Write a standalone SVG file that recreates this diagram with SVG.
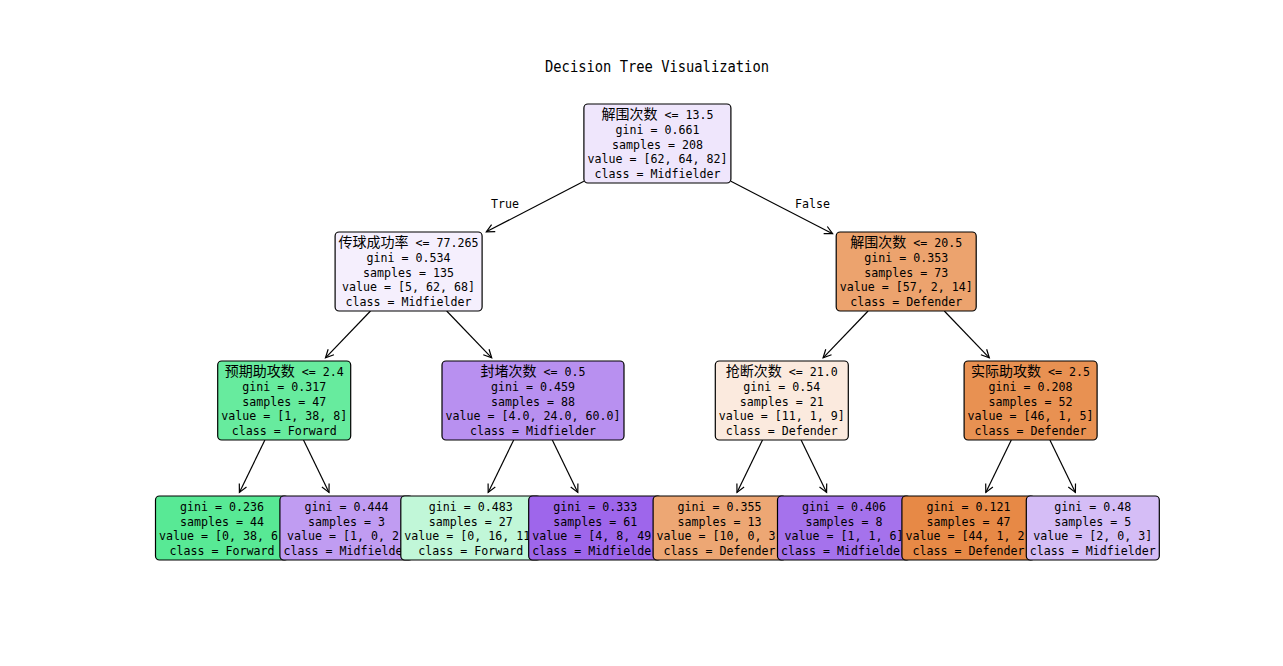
<svg xmlns="http://www.w3.org/2000/svg" width="1283" height="666" viewBox="0 0 1283 666">
<style>
.bg{fill:#ffffff}
.box{stroke:#000;stroke-width:1.2}
.t{font-family:"DejaVu Sans Mono","Noto Sans CJK SC",monospace;font-size:12.5px;text-anchor:middle;fill:#000}
.l{font-family:"DejaVu Sans Mono","Noto Sans CJK SC",monospace;font-size:12.5px;text-anchor:start;fill:#000}
.c{font-family:"Noto Sans CJK SC",sans-serif;font-size:14px;text-anchor:start;fill:#000}
.title{font-family:"DejaVu Sans Mono","Noto Sans CJK SC",monospace;font-size:15px;text-anchor:middle;fill:#000}
.edge{stroke:#000;stroke-width:1.2;fill:none;marker-end:url(#arr)}
</style>
<defs>
<marker id="arr" markerUnits="userSpaceOnUse" viewBox="-10 -6 12 12" refX="0" refY="0" markerWidth="12" markerHeight="12" orient="auto">
<path d="M-8,-4 L0,0 L-8,4" fill="none" stroke="#000" stroke-width="1.2"/>
</marker>
</defs>
<rect class="bg" x="0" y="0" width="1283" height="666"/>
<text class="title" x="657" y="72" textLength="224" lengthAdjust="spacingAndGlyphs">Decision Tree Visualization</text>

<g id="connectors">
<line class="edge" x1="583.9" y1="181.3" x2="486.3" y2="231.8"/>
<line class="edge" x1="730.9" y1="181.3" x2="832.6" y2="233.7"/>
<line class="edge" x1="370.5" y1="311" x2="325.5" y2="357.8"/>
<line class="edge" x1="446.7" y1="311" x2="491.7" y2="357.8"/>
<line class="edge" x1="868.1" y1="311" x2="823.1" y2="357.8"/>
<line class="edge" x1="944.3" y1="311" x2="989.3" y2="357.8"/>
<line class="edge" x1="264.9" y1="440" x2="239.4" y2="492.4"/>
<line class="edge" x1="303.5" y1="440" x2="329.0" y2="492.4"/>
<line class="edge" x1="513.7" y1="440" x2="488.2" y2="492.4"/>
<line class="edge" x1="552.3" y1="440" x2="577.8" y2="492.4"/>
<line class="edge" x1="762.5" y1="440" x2="737.0" y2="492.4"/>
<line class="edge" x1="801.1" y1="440" x2="826.6" y2="492.4"/>
<line class="edge" x1="1011.3" y1="440" x2="985.8" y2="492.4"/>
<line class="edge" x1="1049.9" y1="440" x2="1075.4" y2="492.4"/>
<text class="t" x="505" y="208" textLength="28" lengthAdjust="spacingAndGlyphs">True</text>
<text class="t" x="812.5" y="208" textLength="35" lengthAdjust="spacingAndGlyphs">False</text>
</g>

<g id="node-root">
<rect class="box" x="583.9" y="104" width="147" height="79" rx="4" fill="#efe6fc"/>
<text class="c" x="601.4" y="119" textLength="56" lengthAdjust="spacingAndGlyphs">解围次数</text>
<text class="l" x="664.4" y="119" textLength="49" lengthAdjust="spacingAndGlyphs">&lt;= 13.5</text>
<text class="t" x="657.4" y="133.7" textLength="84" lengthAdjust="spacingAndGlyphs">gini = 0.661</text>
<text class="t" x="657.4" y="148.5" textLength="91" lengthAdjust="spacingAndGlyphs">samples = 208</text>
<text class="t" x="657.4" y="163.2" textLength="140" lengthAdjust="spacingAndGlyphs">value = [62, 64, 82]</text>
<text class="t" x="657.4" y="178" textLength="126" lengthAdjust="spacingAndGlyphs">class = Midfielder</text>
</g>

<g id="node-a">
<rect class="box" x="335.1" y="232" width="147" height="79" rx="4" fill="#f5effd"/>
<text class="c" x="338.6" y="247" textLength="70" lengthAdjust="spacingAndGlyphs">传球成功率</text>
<text class="l" x="415.6" y="247" textLength="63" lengthAdjust="spacingAndGlyphs">&lt;= 77.265</text>
<text class="t" x="408.6" y="261.7" textLength="84" lengthAdjust="spacingAndGlyphs">gini = 0.534</text>
<text class="t" x="408.6" y="276.5" textLength="91" lengthAdjust="spacingAndGlyphs">samples = 135</text>
<text class="t" x="408.6" y="291.2" textLength="133" lengthAdjust="spacingAndGlyphs">value = [5, 62, 68]</text>
<text class="t" x="408.6" y="306" textLength="126" lengthAdjust="spacingAndGlyphs">class = Midfielder</text>
</g>

<g id="node-b">
<rect class="box" x="836.2" y="232" width="140" height="79" rx="4" fill="#eca36e"/>
<text class="c" x="850.2" y="247" textLength="56" lengthAdjust="spacingAndGlyphs">解围次数</text>
<text class="l" x="913.2" y="247" textLength="49" lengthAdjust="spacingAndGlyphs">&lt;= 20.5</text>
<text class="t" x="906.2" y="261.7" textLength="84" lengthAdjust="spacingAndGlyphs">gini = 0.353</text>
<text class="t" x="906.2" y="276.5" textLength="84" lengthAdjust="spacingAndGlyphs">samples = 73</text>
<text class="t" x="906.2" y="291.2" textLength="133" lengthAdjust="spacingAndGlyphs">value = [57, 2, 14]</text>
<text class="t" x="906.2" y="306" textLength="112" lengthAdjust="spacingAndGlyphs">class = Defender</text>
</g>

<g id="node-c">
<rect class="box" x="217.7" y="361" width="133" height="79" rx="4" fill="#67eb9e"/>
<text class="c" x="224.7" y="376" textLength="70" lengthAdjust="spacingAndGlyphs">预期助攻数</text>
<text class="l" x="301.7" y="376" textLength="42" lengthAdjust="spacingAndGlyphs">&lt;= 2.4</text>
<text class="t" x="284.2" y="390.7" textLength="84" lengthAdjust="spacingAndGlyphs">gini = 0.317</text>
<text class="t" x="284.2" y="405.5" textLength="84" lengthAdjust="spacingAndGlyphs">samples = 47</text>
<text class="t" x="284.2" y="420.2" textLength="126" lengthAdjust="spacingAndGlyphs">value = [1, 38, 8]</text>
<text class="t" x="284.2" y="435" textLength="105" lengthAdjust="spacingAndGlyphs">class = Forward</text>
</g>

<g id="node-d">
<rect class="box" x="442" y="361" width="182" height="79" rx="4" fill="#b890f0"/>
<text class="c" x="480.5" y="376" textLength="56" lengthAdjust="spacingAndGlyphs">封堵次数</text>
<text class="l" x="543.5" y="376" textLength="42" lengthAdjust="spacingAndGlyphs">&lt;= 0.5</text>
<text class="t" x="533" y="390.7" textLength="84" lengthAdjust="spacingAndGlyphs">gini = 0.459</text>
<text class="t" x="533" y="405.5" textLength="84" lengthAdjust="spacingAndGlyphs">samples = 88</text>
<text class="t" x="533" y="420.2" textLength="175" lengthAdjust="spacingAndGlyphs">value = [4.0, 24.0, 60.0]</text>
<text class="t" x="533" y="435" textLength="126" lengthAdjust="spacingAndGlyphs">class = Midfielder</text>
</g>

<g id="node-e">
<rect class="box" x="715.3" y="361" width="133" height="79" rx="4" fill="#fbeade"/>
<text class="c" x="725.8" y="376" textLength="56" lengthAdjust="spacingAndGlyphs">抢断次数</text>
<text class="l" x="788.8" y="376" textLength="49" lengthAdjust="spacingAndGlyphs">&lt;= 21.0</text>
<text class="t" x="781.8" y="390.7" textLength="77" lengthAdjust="spacingAndGlyphs">gini = 0.54</text>
<text class="t" x="781.8" y="405.5" textLength="84" lengthAdjust="spacingAndGlyphs">samples = 21</text>
<text class="t" x="781.8" y="420.2" textLength="126" lengthAdjust="spacingAndGlyphs">value = [11, 1, 9]</text>
<text class="t" x="781.8" y="435" textLength="112" lengthAdjust="spacingAndGlyphs">class = Defender</text>
</g>

<g id="node-f">
<rect class="box" x="964.1" y="361" width="133" height="79" rx="4" fill="#e89152"/>
<text class="c" x="971.1" y="376" textLength="70" lengthAdjust="spacingAndGlyphs">实际助攻数</text>
<text class="l" x="1048.1" y="376" textLength="42" lengthAdjust="spacingAndGlyphs">&lt;= 2.5</text>
<text class="t" x="1030.6" y="390.7" textLength="84" lengthAdjust="spacingAndGlyphs">gini = 0.208</text>
<text class="t" x="1030.6" y="405.5" textLength="84" lengthAdjust="spacingAndGlyphs">samples = 52</text>
<text class="t" x="1030.6" y="420.2" textLength="126" lengthAdjust="spacingAndGlyphs">value = [46, 1, 5]</text>
<text class="t" x="1030.6" y="435" textLength="112" lengthAdjust="spacingAndGlyphs">class = Defender</text>
</g>

<g id="leaf-1">
<rect class="box" x="155.5" y="496" width="133" height="64" rx="4" fill="#58e995"/>
<text class="t" x="222" y="511" textLength="84" lengthAdjust="spacingAndGlyphs">gini = 0.236</text>
<text class="t" x="222" y="525.7" textLength="84" lengthAdjust="spacingAndGlyphs">samples = 44</text>
<text class="t" x="222" y="540.4" textLength="126" lengthAdjust="spacingAndGlyphs">value = [0, 38, 6]</text>
<text class="t" x="222" y="555.1" textLength="105" lengthAdjust="spacingAndGlyphs">class = Forward</text>
</g>

<g id="leaf-2">
<rect class="box" x="279.9" y="496" width="133" height="64" rx="4" fill="#c09cf2"/>
<text class="t" x="346.4" y="511" textLength="84" lengthAdjust="spacingAndGlyphs">gini = 0.444</text>
<text class="t" x="346.4" y="525.7" textLength="77" lengthAdjust="spacingAndGlyphs">samples = 3</text>
<text class="t" x="346.4" y="540.4" textLength="119" lengthAdjust="spacingAndGlyphs">value = [1, 0, 2]</text>
<text class="t" x="346.4" y="555.1" textLength="126" lengthAdjust="spacingAndGlyphs">class = Midfielder</text>
</g>

<g id="leaf-3">
<rect class="box" x="400.8" y="496" width="140" height="64" rx="4" fill="#c1f7d8"/>
<text class="t" x="470.8" y="511" textLength="84" lengthAdjust="spacingAndGlyphs">gini = 0.483</text>
<text class="t" x="470.8" y="525.7" textLength="84" lengthAdjust="spacingAndGlyphs">samples = 27</text>
<text class="t" x="470.8" y="540.4" textLength="133" lengthAdjust="spacingAndGlyphs">value = [0, 16, 11]</text>
<text class="t" x="470.8" y="555.1" textLength="105" lengthAdjust="spacingAndGlyphs">class = Forward</text>
</g>

<g id="leaf-4">
<rect class="box" x="528.7" y="496" width="133" height="64" rx="4" fill="#9e66eb"/>
<text class="t" x="595.2" y="511" textLength="84" lengthAdjust="spacingAndGlyphs">gini = 0.333</text>
<text class="t" x="595.2" y="525.7" textLength="84" lengthAdjust="spacingAndGlyphs">samples = 61</text>
<text class="t" x="595.2" y="540.4" textLength="126" lengthAdjust="spacingAndGlyphs">value = [4, 8, 49]</text>
<text class="t" x="595.2" y="555.1" textLength="126" lengthAdjust="spacingAndGlyphs">class = Midfielder</text>
</g>

<g id="leaf-5">
<rect class="box" x="653.1" y="496" width="133" height="64" rx="4" fill="#eda774"/>
<text class="t" x="719.6" y="511" textLength="84" lengthAdjust="spacingAndGlyphs">gini = 0.355</text>
<text class="t" x="719.6" y="525.7" textLength="84" lengthAdjust="spacingAndGlyphs">samples = 13</text>
<text class="t" x="719.6" y="540.4" textLength="126" lengthAdjust="spacingAndGlyphs">value = [10, 0, 3]</text>
<text class="t" x="719.6" y="555.1" textLength="112" lengthAdjust="spacingAndGlyphs">class = Defender</text>
</g>

<g id="leaf-6">
<rect class="box" x="777.5" y="496" width="133" height="64" rx="4" fill="#a572ec"/>
<text class="t" x="844" y="511" textLength="84" lengthAdjust="spacingAndGlyphs">gini = 0.406</text>
<text class="t" x="844" y="525.7" textLength="77" lengthAdjust="spacingAndGlyphs">samples = 8</text>
<text class="t" x="844" y="540.4" textLength="119" lengthAdjust="spacingAndGlyphs">value = [1, 1, 6]</text>
<text class="t" x="844" y="555.1" textLength="126" lengthAdjust="spacingAndGlyphs">class = Midfielder</text>
</g>

<g id="leaf-7">
<rect class="box" x="901.9" y="496" width="133" height="64" rx="4" fill="#e78946"/>
<text class="t" x="968.4" y="511" textLength="84" lengthAdjust="spacingAndGlyphs">gini = 0.121</text>
<text class="t" x="968.4" y="525.7" textLength="84" lengthAdjust="spacingAndGlyphs">samples = 47</text>
<text class="t" x="968.4" y="540.4" textLength="126" lengthAdjust="spacingAndGlyphs">value = [44, 1, 2]</text>
<text class="t" x="968.4" y="555.1" textLength="112" lengthAdjust="spacingAndGlyphs">class = Defender</text>
</g>

<g id="leaf-8">
<rect class="box" x="1026.3" y="496" width="133" height="64" rx="4" fill="#d5bdf6"/>
<text class="t" x="1092.8" y="511" textLength="77" lengthAdjust="spacingAndGlyphs">gini = 0.48</text>
<text class="t" x="1092.8" y="525.7" textLength="77" lengthAdjust="spacingAndGlyphs">samples = 5</text>
<text class="t" x="1092.8" y="540.4" textLength="119" lengthAdjust="spacingAndGlyphs">value = [2, 0, 3]</text>
<text class="t" x="1092.8" y="555.1" textLength="126" lengthAdjust="spacingAndGlyphs">class = Midfielder</text>
</g>
</svg>
